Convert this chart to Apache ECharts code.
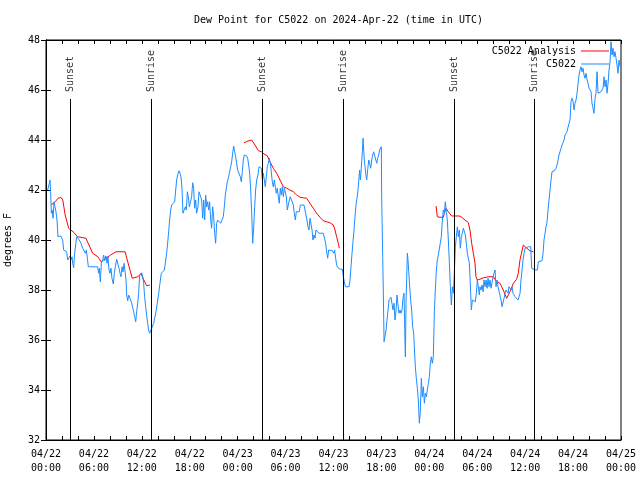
<!DOCTYPE html>
<html><head><meta charset="utf-8">
<script src="https://cdn.jsdelivr.net/npm/echarts@6/dist/echarts.min.js"></script>
<style>html,body{margin:0;padding:0;background:#fff}#c{width:640px;height:480px}</style>
</head><body><div id="c"></div>
<script>
const xTickLabels = ['04/22\n00:00','04/22\n06:00','04/22\n12:00','04/22\n18:00','04/23\n00:00','04/23\n06:00','04/23\n12:00','04/23\n18:00','04/24\n00:00','04/24\n06:00','04/24\n12:00','04/24\n18:00','04/25\n00:00'];
const sunsetHours = [3.05, 27.1, 51.15];
const sunriseHours = [13.2, 37.2, 61.15];

const obsHours = [0.21,0.33,0.42,0.5,0.58,0.67,0.79,0.88,1.0,1.13,1.25,1.38,1.5,1.67,1.84,2.0,2.09,2.21,2.38,2.59,2.71,2.84,3.0,3.13,3.26,3.34,3.46,3.59,3.71,3.84,3.96,4.17,4.38,4.59,4.8,4.92,5.05,5.18,5.3,5.63,5.84,6.18,6.47,6.59,6.68,6.8,6.93,7.1,7.22,7.35,7.51,7.64,7.76,7.89,8.01,8.14,8.26,8.43,8.56,8.68,8.85,9.02,9.14,9.27,9.39,9.52,9.64,9.77,9.89,10.02,10.1,10.23,10.35,10.48,10.6,10.73,10.85,10.98,11.1,11.23,11.35,11.48,11.6,11.73,11.85,11.98,12.1,12.23,12.35,12.48,12.6,12.73,12.85,12.98,13.1,13.23,13.36,13.48,13.65,13.77,13.94,14.11,14.27,14.44,14.61,14.82,14.94,15.11,15.23,15.36,15.48,15.61,15.73,15.94,16.11,16.24,16.36,16.49,16.65,16.78,16.9,17.03,17.15,17.28,17.45,17.57,17.7,17.82,17.95,
18.03,18.24,18.36,18.49,18.61,18.74,18.86,19.03,19.16,19.37,19.49,19.62,19.74,19.87,19.99,20.12,20.24,20.37,20.49,20.62,20.74,20.87,20.99,21.12,21.24,21.37,21.49,21.7,21.87,22.08,22.2,22.33,22.45,22.58,22.7,22.87,23.0,23.12,23.25,23.37,23.5,23.62,23.75,23.87,24.0,24.21,24.33,24.46,24.58,24.71,24.83,24.96,25.12,25.25,25.38,25.5,25.63,25.75,25.88,26.0,26.13,26.25,26.38,26.54,26.67,26.79,26.96,27.09,27.21,27.34,27.46,27.59,27.71,27.84,27.96,28.09,28.21,28.34,28.46,28.59,28.71,28.84,28.96,29.09,29.21,29.34,29.47,29.59,29.72,29.84,29.97,30.09,30.22,30.34,30.47,30.59,30.72,30.84,30.97,31.09,31.22,31.34,31.47,31.72,31.85,32.05,32.3,32.55,32.68,32.8,32.93,33.06,33.18,33.31,33.43,33.56,33.68,33.81,33.93,34.06,34.18,34.43,34.72,34.89,35.02,35.14,35.27,35.39,35.64,35.89,36.02,36.14,36.27,36.39,36.52,36.69,
36.82,37.11,37.23,37.36,37.48,37.69,37.94,38.07,38.19,38.32,38.44,38.57,38.69,38.82,38.94,39.07,39.2,39.28,39.36,39.45,39.53,39.61,39.7,39.78,39.86,39.95,40.03,40.15,40.28,40.41,40.53,40.66,40.78,40.91,41.03,41.16,41.28,41.41,41.53,41.66,41.78,41.91,41.99,42.03,42.16,42.24,42.33,42.45,42.58,42.7,42.83,42.95,43.08,43.2,43.33,43.45,43.58,43.7,43.83,43.95,44.08,44.2,44.33,44.45,44.58,44.7,44.83,44.95,45.0,45.08,45.16,45.25,45.33,45.41,45.54,45.66,45.79,45.91,46.04,46.12,46.25,46.37,46.5,46.62,46.75,46.87,47.0,47.12,47.25,47.38,47.5,47.63,47.75,47.88,48.0,48.13,48.25,48.38,48.5,48.63,48.75,48.88,49.0,49.13,49.25,49.38,49.5,49.63,49.75,49.88,50.0,50.13,50.25,50.38,50.51,50.63,50.76,50.88,51.01,51.13,51.26,51.38,51.51,51.63,51.76,51.88,52.01,52.13,52.26,52.38,52.51,52.63,52.76,52.88,53.01,53.13,53.26,53.39,53.51,53.64,53.76,53.89,54.01,54.14,54.26,
54.35,54.48,54.6,54.73,54.85,54.98,55.1,55.23,55.35,55.48,55.6,55.73,55.85,55.98,56.1,56.23,56.35,56.48,56.6,56.73,56.85,56.98,57.1,57.23,57.36,57.48,57.61,57.73,57.86,57.98,58.11,58.23,58.36,58.48,58.61,58.73,58.86,58.98,59.11,59.23,59.36,59.48,59.61,59.73,59.86,59.98,60.11,60.4,60.69,60.82,61.03,61.24,61.53,61.65,61.86,62.11,62.24,62.36,62.49,62.61,62.74,62.86,62.99,63.11,63.24,63.36,63.49,63.62,63.74,63.87,63.99,64.12,64.24,64.37,64.49,64.62,64.74,64.87,64.99,65.12,65.24,65.37,65.49,65.62,65.74,65.87,66.0,66.12,66.24,66.37,66.5,66.62,66.75,66.87,67.0,67.12,67.25,67.37,67.5,67.62,67.75,67.87,68.0,68.12,68.25,68.37,68.5,68.62,68.75,68.87,69.0,69.13,69.25,69.38,69.5,69.63,69.75,69.88,70.0,70.13,70.25,70.38,70.5,70.63,70.75,70.88,71.0,71.13,71.25,71.38,71.5,71.63,71.75,71.88];

const obsValues = [42.0,42.0,42.27,42.4,41.93,41.07,41.2,40.87,41.53,41.33,41.13,40.8,40.13,40.13,40.16,40.13,40.0,39.6,39.53,39.53,39.2,39.13,39.36,39.2,39.33,39.07,38.89,39.47,39.8,40.13,40.07,40.0,39.87,39.67,39.6,39.47,39.6,39.27,38.93,38.93,39.0,38.93,38.93,38.67,38.87,38.33,39.07,39.2,39.4,39.17,39.36,39.07,39.33,38.8,38.67,38.87,38.47,38.24,38.67,38.93,39.23,39.23,38.87,38.67,38.53,38.93,38.73,39.07,39.13,38.4,37.8,37.57,37.8,37.87,37.6,37.47,37.4,37.13,36.93,36.73,37.13,37.47,37.87,38.6,38.67,38.69,38.53,38.27,37.73,37.33,37.0,36.67,36.4,36.27,36.33,36.47,36.53,36.67,36.93,37.13,37.47,37.87,38.27,38.67,38.73,38.8,39.07,39.47,39.87,40.33,40.8,41.2,41.4,41.44,41.53,42.0,42.4,42.6,42.77,42.67,42.53,42.07,41.07,41.13,41.33,41.2,41.93,41.73,41.33,
41.36,41.73,42.29,42.07,41.27,41.6,41.07,41.33,41.93,41.93,41.6,40.87,41.6,40.8,41.8,41.33,41.53,41.2,41.53,40.8,40.47,41.33,40.93,40.27,39.87,40.67,40.8,40.8,40.67,40.64,40.93,41.33,41.8,42.07,42.33,42.53,42.73,42.93,43.13,43.47,43.76,43.53,43.33,43.07,42.8,42.8,42.53,42.33,42.73,43.2,43.4,43.4,43.36,43.27,43.0,42.67,42.0,41.13,39.87,40.47,41.33,42.0,42.4,42.6,42.93,42.87,42.87,42.4,42.67,42.6,42.13,42.53,42.93,43.07,43.27,43.07,42.73,42.33,42.13,42.4,42.13,41.87,42.07,41.73,41.47,42.07,41.8,42.13,41.73,42.07,41.93,41.73,41.2,41.4,41.6,41.73,41.67,41.73,41.4,41.07,40.8,41.13,41.13,41.13,41.4,41.4,41.4,41.4,40.8,40.53,40.4,40.87,40.8,40.4,40.0,40.2,40.07,40.4,40.47,40.33,40.27,40.27,40.27,40.24,39.87,39.53,39.27,39.6,39.6,39.57,39.47,39.6,39.27,39.0,38.91,38.83,
38.83,38.83,38.53,38.33,38.13,38.13,38.13,38.4,38.93,39.47,39.93,40.4,40.93,41.4,41.67,42.0,42.53,42.8,42.4,42.73,43.13,43.53,44.07,43.6,43.2,42.93,42.67,42.4,42.8,43.2,43.07,42.87,43.2,43.4,43.53,43.6,43.47,43.07,43.27,43.4,43.6,43.67,43.73,41.73,39.33,37.87,35.93,35.93,36.4,36.8,37.2,37.6,37.67,37.71,37.67,37.2,37.47,36.8,37.2,37.8,37.4,37.07,37.2,37.07,37.2,37.67,37.87,36.0,35.33,37.47,38.4,39.47,39.2,38.8,38.13,37.6,37.2,36.53,36.27,35.73,34.93,34.47,34.07,33.6,32.67,33.13,34.47,33.73,34.13,33.47,33.87,33.73,34.0,34.27,34.53,35.07,35.33,35.07,35.33,37.13,38.0,38.8,39.2,39.4,39.47,39.33,40.13,40.8,41.2,41.07,41.53,41.13,40.8,40.0,39.07,38.13,37.4,38.13,37.87,38.67,39.73,40.13,40.53,40.13,40.4,39.67,40.13,40.27,40.47,40.4,40.2,39.87,39.47,39.4,39.07,38.27,37.2,37.6,37.53,37.6,37.53,37.87,38.4,38.13,37.8,
38.13,38.0,38.2,37.93,38.4,38.13,38.4,38.07,38.47,38.13,38.4,38.07,38.13,38.53,38.67,38.8,38.13,38.4,38.13,38.07,38.13,37.6,37.33,37.27,37.67,37.87,38.0,38.07,37.87,38.13,38.2,38.0,38.13,37.87,37.87,37.73,37.8,37.73,37.6,37.53,37.87,38.4,38.8,39.2,39.47,39.67,39.73,39.73,39.73,38.87,38.87,38.8,38.8,39.13,39.17,39.17,39.47,40.0,40.27,40.53,40.73,41.2,41.6,42.0,42.4,42.73,42.73,42.76,42.8,42.87,43.0,43.2,43.4,43.47,43.47,43.8,43.87,44.0,44.2,44.27,44.33,44.4,44.67,44.8,45.53,45.67,45.53,45.2,45.47,45.6,45.87,46.27,46.6,46.8,46.93,46.73,46.87,46.6,46.47,46.67,46.4,46.27,46.07,46.13,45.93,45.47,45.4,45.07,45.67,45.87,46.73,45.87,45.93,45.93,45.93,46.0,46.07,46.53,46.13,46.4,45.87,46.27,46.8,47.13,47.93,47.4,47.67,47.33,47.53,47.27,47.0,46.67,47.2,46.93];

const anaHours = [0.63,0.9,1.2,1.5,1.88,2.1,2.4,2.84,3.5,3.96,5.0,5.84,6.5,6.9,7.5,8.1,8.76,9.9,10.4,10.8,11.5,11.9,12.25,12.6,13.0,
18,
24.79,25.21,25.75,26.17,26.59,27.0,27.3,27.71,28.05,28.46,28.88,29.3,29.72,30.13,30.55,30.97,31.39,31.8,32.22,32.64,33.05,33.47,33.89,34.31,34.72,35.14,35.56,35.98,36.19,36.39,36.6,36.73,
42,
48.84,49.0,49.34,49.75,49.88,50.09,50.38,50.8,51.22,51.84,52.05,52.47,52.89,53.09,53.3,53.51,53.72,53.84,54.01,54.26,54.34,54.76,55.39,56.01,56.43,56.85,57.26,57.68,58.1,58.52,58.93,59.14,59.35,59.77,60.19,60.6,61.02];
const anaValues = [41.44,41.44,41.55,41.67,41.7,41.6,41.0,40.47,40.3,40.13,40.07,39.47,39.33,39.13,39.27,39.4,39.53,39.53,38.93,38.47,38.53,38.65,38.4,38.17,38.2,
null,
43.89,43.95,44.0,43.8,43.57,43.53,43.44,43.37,43.13,42.87,42.67,42.4,42.13,42.07,42.0,41.93,41.8,41.71,41.69,41.67,41.47,41.27,41.07,40.91,40.77,40.73,40.69,40.6,40.4,40.13,39.87,39.67,
null,
41.36,40.93,40.91,40.91,41.07,41.27,41.13,40.96,40.96,40.96,40.93,40.8,40.69,40.4,39.87,39.47,39.07,38.53,38.4,38.37,38.43,38.49,38.53,38.53,38.33,38.27,38.0,37.67,37.93,38.27,38.43,38.67,39.2,39.8,39.67,39.57,39.53];

const FONT = 'DejaVu Sans Mono';
const sunLineTop = 45.64, sunLabelBase = 45.92;

const obsData = obsHours.map((h,i)=>[h, obsValues[i]]);
const anaData = anaHours.map((h,i)=>[h, anaValues[i] === null ? '-' : anaValues[i]]);
const sunEvents = sunsetHours.map(h=>({h, name:'Sunset'})).concat(sunriseHours.map(h=>({h, name:'Sunrise'})));

const chart = echarts.init(document.getElementById('c'), null, {renderer:'canvas'});
const axisCommon = {
  axisLine:{show:true, lineStyle:{color:'#000', width:1}},
  splitLine:{show:false},
};
chart.setOption({
  animation:false,
  backgroundColor:'#fff',
  title:{text:'Dew Point for C5022 on 2024-Apr-22 (time in UTC)', left:189, top:10,
    textStyle:{fontFamily:FONT, fontSize:10, fontWeight:'normal', color:'#000'}},
  grid:{left:46, right:19, top:40, bottom:40, show:true, borderColor:'#000', borderWidth:1,
    backgroundColor:'transparent', containLabel:false, outerBoundsMode:'none'},
  legend:{right:31, top:46, orient:'vertical', align:'right', itemWidth:28, itemHeight:1, itemGap:3, padding:0,
    icon:'rect',
    textStyle:{fontFamily:FONT, fontSize:10, color:'#000'},
    data:[{name:'C5022 Analysis', itemStyle:{color:'#ff0000'}},{name:'C5022', itemStyle:{color:'#1e8cff'}}]},
  xAxis:[
    Object.assign({type:'value', min:0, max:72, interval:6, position:'bottom',
      axisTick:{show:true, inside:true, length:4, lineStyle:{color:'#000'}},
      minorTick:{show:true, splitNumber:3, length:4, lineStyle:{color:'#000'}},
      axisLabel:{fontFamily:FONT, fontSize:10, color:'#000', lineHeight:14, margin:7,
        formatter:(v)=> xTickLabels[Math.round(v/6)]}}, axisCommon),
    Object.assign({type:'value', min:0, max:72, interval:6, position:'top',
      axisTick:{show:true, inside:true, length:4, lineStyle:{color:'#000'}},
      minorTick:{show:true, splitNumber:3, length:4, lineStyle:{color:'#000'}},
      axisLabel:{show:false}}, axisCommon)
  ],
  yAxis:[
    Object.assign({type:'value', min:32, max:48, interval:2, position:'left',
      name:'degrees F', nameLocation:'middle', nameRotate:90, nameGap:33,
      nameTextStyle:{fontFamily:FONT, fontSize:10, color:'#000'},
      axisTick:{show:true, inside:true, length:5, lineStyle:{color:'#000'}},
      axisLabel:{fontFamily:FONT, fontSize:10, color:'#000', margin:6}}, axisCommon),
    Object.assign({type:'value', min:32, max:48, interval:2, position:'right',
      axisTick:{show:true, inside:true, length:5, lineStyle:{color:'#000'}},
      axisLabel:{show:false}}, axisCommon)
  ],
  series:[
    {name:'C5022 Analysis', type:'line', data:anaData, symbol:'none', showSymbol:false, connectNulls:false,
      lineStyle:{color:'#ff0000', width:1}, itemStyle:{color:'#ff0000'}, z:2,
      markLine:{silent:true, symbol:'none', animation:false,
        lineStyle:{color:'#000', width:1, type:'solid'}, label:{show:false},
        data: sunEvents.map(e=>[{coord:[e.h, 32]},{coord:[e.h, sunLineTop]}])}},
    {name:'C5022', type:'line', data:obsData, symbol:'none', showSymbol:false,
      lineStyle:{color:'#1e8cff', width:1}, itemStyle:{color:'#1e8cff'}, z:3},
    {name:'sun', type:'scatter', symbolSize:0, silent:true, z:5,
      data: sunEvents.map(e=>({value:[e.h, sunLabelBase], name:e.name})),
      label:{show:true, position:'inside', rotate:90, align:'left', verticalAlign:'middle',
        formatter:(p)=>p.name, fontFamily:FONT, fontSize:10, color:'#000'}}
  ]
});
</script></body></html>
